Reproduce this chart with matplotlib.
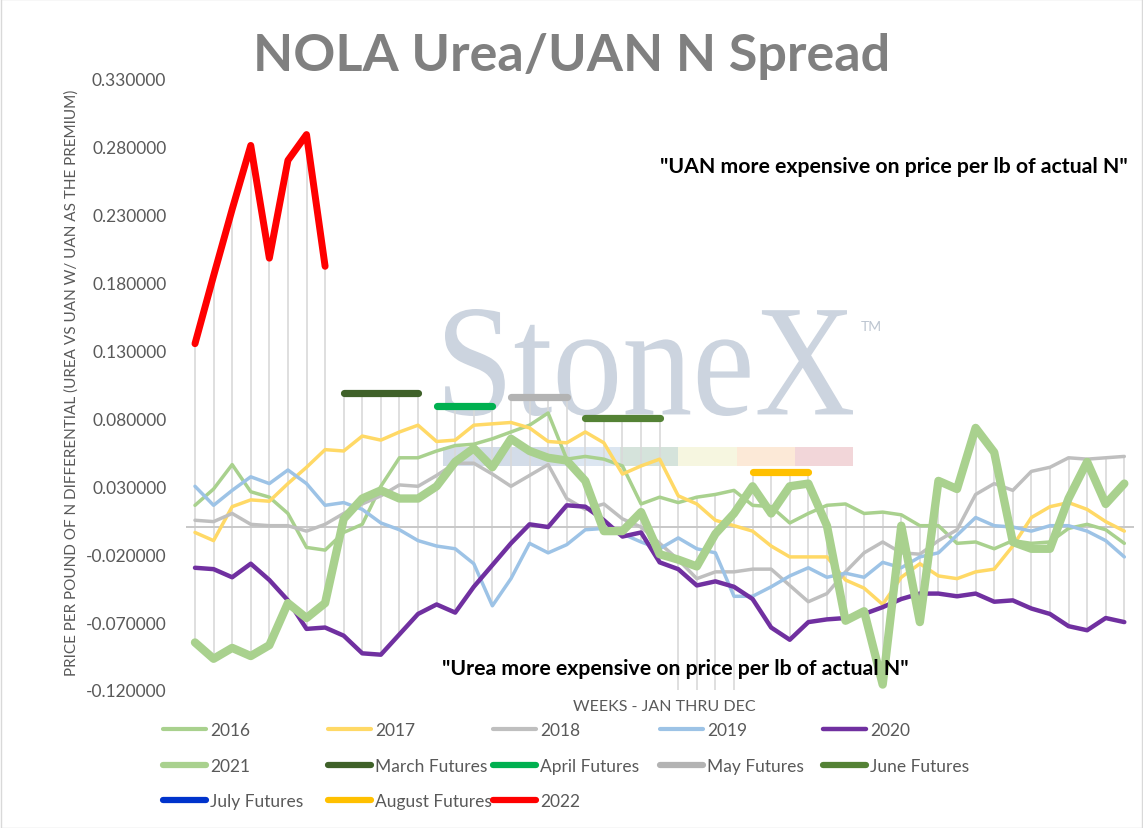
import numpy as np
import matplotlib
matplotlib.use("Agg")
import matplotlib.pyplot as plt
from matplotlib.lines import Line2D
from matplotlib.patches import Rectangle, PathPatch
from matplotlib.textpath import TextPath
from matplotlib.font_manager import FontProperties
from matplotlib.transforms import Affine2D

plt.rcParams["font.family"] = ["Lato", "DejaVu Sans"]

# weeks on the category axis
weeks = np.arange(1, 52)

# yearly spread series
yr2016 = [0.016, 0.028, 0.046, 0.026, 0.022, 0.010, -0.015, -0.017, -0.004, 0.002,
          0.030, 0.051, 0.051, 0.056, 0.060, 0.061, 0.065, 0.070, 0.075, 0.084,
          0.050, 0.052, 0.050, 0.045, 0.017, 0.022, 0.018, 0.022, 0.024, 0.027,
          0.016, 0.015, 0.003, 0.010, 0.016, 0.017, 0.010, 0.011, 0.009, 0.001,
          0.001, -0.012, -0.011, -0.016, -0.010, -0.012, -0.011, -0.001, 0.002, -0.002,
          -0.012]
yr2017 = [-0.004, -0.010, 0.015, 0.020, 0.019, 0.032, 0.044, 0.057, 0.056, 0.067,
          0.064, 0.070, 0.075, 0.063, 0.064, 0.075, 0.076, 0.077, 0.073, 0.063,
          0.062, 0.070, 0.062, 0.039, 0.045, 0.050, 0.023, 0.017, 0.005, 0.001,
          -0.003, -0.014, -0.022, -0.022, -0.022, -0.039, -0.045, -0.057, -0.037, -0.027,
          -0.036, -0.038, -0.033, -0.031, -0.014, 0.007, 0.015, 0.018, 0.013, 0.004,
          -0.003]
yr2018 = [0.005, 0.004, 0.010, 0.002, 0.001, 0.001, -0.003, 0.002, 0.010, 0.017,
          0.023, 0.031, 0.030, 0.038, 0.047, 0.047, 0.039, 0.030, 0.038, 0.046,
          0.021, 0.013, 0.017, 0.006, 0.000, -0.012, -0.024, -0.038, -0.033, -0.033,
          -0.031, -0.031, -0.043, -0.055, -0.049, -0.033, -0.019, -0.011, -0.019, -0.020,
          -0.010, -0.002, 0.024, 0.032, 0.027, 0.041, 0.044, 0.051, 0.050, 0.051,
          0.052]
yr2019 = [0.030, 0.016, 0.027, 0.037, 0.032, 0.042, 0.032, 0.016, 0.018, 0.013,
          0.003, -0.002, -0.010, -0.014, -0.016, -0.027, -0.058, -0.038, -0.012, -0.019,
          -0.013, -0.002, -0.001, -0.005, -0.011, -0.016, -0.008, -0.016, -0.019, -0.051,
          -0.051, -0.044, -0.036, -0.030, -0.037, -0.034, -0.037, -0.026, -0.030, -0.022,
          -0.019, -0.006, 0.007, 0.001, 0.000, -0.003, 0.001, 0.001, -0.003, -0.010,
          -0.022]
yr2020 = [-0.030, -0.031, -0.037, -0.027, -0.039, -0.054, -0.075, -0.074, -0.080, -0.093,
          -0.094, -0.079, -0.064, -0.057, -0.063, -0.044, -0.028, -0.012, 0.002, 0.000,
          0.016, 0.015, 0.005, -0.007, -0.004, -0.026, -0.031, -0.043, -0.040, -0.044,
          -0.053, -0.074, -0.083, -0.070, -0.068, -0.067, -0.064, -0.059, -0.053, -0.049,
          -0.049, -0.051, -0.049, -0.055, -0.054, -0.060, -0.064, -0.073, -0.076, -0.067,
          -0.070]
yr2021 = [-0.085, -0.097, -0.089, -0.095, -0.087, -0.056, -0.067, -0.056, 0.006, 0.021,
          0.027, 0.021, 0.021, 0.030, 0.048, 0.058, 0.044, 0.065, 0.056, 0.051,
          0.049, 0.034, -0.003, -0.003, 0.011, -0.020, -0.024, -0.029, -0.005, 0.010,
          0.030, 0.010, 0.030, 0.032, 0.001, -0.069, -0.062, -0.116, 0.001, -0.070,
          0.034, 0.028, 0.073, 0.055, -0.011, -0.016, -0.016, 0.021, 0.048, 0.017,
          0.032]
yr2022 = [0.135, 0.185, 0.234, 0.281, 0.198, 0.270, 0.289, 0.192]

# futures windows: first week, last week, level
fut_names = ["March Futures", "April Futures", "May Futures", "June Futures",
             "July Futures", "August Futures"]
fut_first = [9, 14, 18, 22, 27, 31]
fut_last = [13, 17, 21, 26, 30, 34]
fut_level = [0.099, 0.089, 0.0955, 0.080, -0.15, 0.0407]

yticks = np.round(np.arange(-0.12, 0.3301, 0.05), 2)

year_style = {
    "2016": ("#A9D18E", 2.5),
    "2017": ("#FFD966", 2.5),
    "2018": ("#BFBFBF", 2.5),
    "2019": ("#9DC3E6", 2.5),
    "2020": ("#7030A0", 3.2),
    "2021": ("#A9D18E", 6.0),
    "2022": ("#FF0000", 5.0),
}
fut_colors = ["#3F6129", "#00B050", "#B3B3B3", "#548235", "#0033CC", "#FFC000"]

W, H = 1143, 829
fig = plt.figure(figsize=(W / 100, H / 100), dpi=100)
ax = fig.add_axes([185.7 / W, 1 - 691 / H, (1133.6 - 185.7) / W, (691 - 79.9) / H])
ax.patch.set_alpha(0)

series = {"2016": yr2016, "2017": yr2017, "2018": yr2018, "2019": yr2019,
          "2020": yr2020, "2021": yr2021}

# build full-length arrays for futures and 2022
n = len(weeks)
fut_series = []
for first, last, lvl in zip(fut_first, fut_last, fut_level):
    arr = np.full(n, np.nan)
    arr[first - 1:last] = lvl
    fut_series.append(arr)
arr2022 = np.full(n, np.nan)
arr2022[:len(yr2022)] = yr2022

# high-low lines across every series
stack = np.vstack([np.array(v, dtype=float) for v in series.values()] + fut_series + [arr2022])
hi = np.nanmax(stack, axis=0)
lo = np.nanmin(stack, axis=0)
ax.vlines(weeks, lo, hi, color="#D9D9D9", lw=1.2, zorder=1)

ax.axhline(0, color="#C8C8C8", lw=1.4, zorder=1.5)

handles = {}
for name, vals in series.items():
    c, lw = year_style[name]
    handles[name], = ax.plot(weeks, vals, color=c, lw=lw, solid_joinstyle="round",
                             solid_capstyle="round", zorder=2)
for name, arr, c in zip(fut_names, fut_series, fut_colors):
    handles[name], = ax.plot(weeks, arr, color=c, lw=5.2, solid_capstyle="round", zorder=3)
c, lw = year_style["2022"]
handles["2022"], = ax.plot(weeks, arr2022, color=c, lw=lw, solid_joinstyle="round",
                           solid_capstyle="round", zorder=4)

ax.set_xlim(0.5, n + 0.5)
ax.set_ylim(-0.12, 0.33)
ax.set_xticks([])
ax.set_yticks(yticks)
ax.set_yticklabels([f"{t:.6f}" for t in yticks], color="#595959", fontsize=12.5)
ax.tick_params(axis="y", length=0, pad=14)
for s in ax.spines.values():
    s.set_visible(False)

# StoneX watermark
tp = TextPath((0, 0), "StoneX", size=100, prop=FontProperties(family="Liberation Serif"))
bb = tp.get_extents()
tr = (Affine2D().translate(-bb.x0, -bb.y0).scale(408 / bb.width, 107 / bb.height)
      .translate(445, H - 417).scale(1 / W, 1 / H))
ax.add_patch(PathPatch(tr.transform_path(tp), facecolor="#CCD4DF", edgecolor="none",
                       transform=fig.transFigure, clip_on=False, zorder=0.5))
fig.text(861 / W, 1 - 327 / H, "TM", color="#BCC5D0", fontsize=10, va="center")
band = [(443, 570, "#D3DCE8"), (570, 620, "#DCE6F1"), (620, 678, "#D5E3DB"),
        (678, 737, "#F6F6E0"), (737, 795, "#FCE9D7"), (795, 853, "#F2D6D9")]
for x0, x1, col in band:
    ax.add_patch(Rectangle((x0 / W, 1 - 467 / H), (x1 - x0) / W, 19 / H, facecolor=col,
                           edgecolor="none", transform=fig.transFigure, clip_on=False,
                           zorder=0.6))

# text
fig.text(572 / W, 1 - 56 / H, "NOLA Urea/UAN N Spread", ha="center", va="center",
         fontsize=37.5, fontweight="bold", color="#808080")
fig.text(72 / W, 1 - 383 / H,
         "PRICE PER POUND OF N DIFFERENTIAL (UREA VS UAN W/ UAN AS THE PREMIUM)",
         rotation=90, ha="center", va="center", fontsize=11, color="#595959")
fig.text(664 / W, 1 - 707 / H, "WEEKS - JAN THRU DEC", ha="center", va="center",
         fontsize=11.5, color="#595959")
fig.text(894 / W, 1 - 167 / H, '"UAN more expensive on price per lb of actual N"',
         ha="center", va="center", fontsize=15.3, fontweight="bold", color="black")
fig.text(675 / W, 1 - 669 / H, '"Urea more expensive on price per lb of actual N"',
         ha="center", va="center", fontsize=15.3, fontweight="bold", color="black")

# legend, one block per column like the Excel layout
columns = [["2016", "2021", "July Futures"], ["2017", "March Futures", "August Futures"],
           ["2018", "April Futures", "2022"], ["2019", "May Futures"], ["2020", "June Futures"]]
col_x = [163, 328, 493, 660, 823]
for labels, cx in zip(columns, col_x):
    hs = []
    for lab in labels:
        h = handles[lab]
        lw = min(h.get_linewidth(), 4.5)
        if lab in ("2016", "2017", "2018", "2019"):
            lw = 3.0
        hs.append(Line2D([], [], color=h.get_color(), lw=lw, solid_capstyle="round"))
    leg = fig.legend(hs, labels, loc="upper left", bbox_to_anchor=(cx / W, 1 - 723.5 / H),
                     frameon=False, borderpad=0, borderaxespad=0, handlelength=2.5,
                     handletextpad=0.2, labelspacing=1.1, fontsize=12.5)
    for t in leg.get_texts():
        t.set_color("#595959")

fig.patches.append(Rectangle((0.0005, 0.0005), 0.999, 0.999, fill=False, edgecolor="#D9D9D9",
                             lw=1, transform=fig.transFigure, figure=fig))

fig.savefig("out.png", dpi=100)
